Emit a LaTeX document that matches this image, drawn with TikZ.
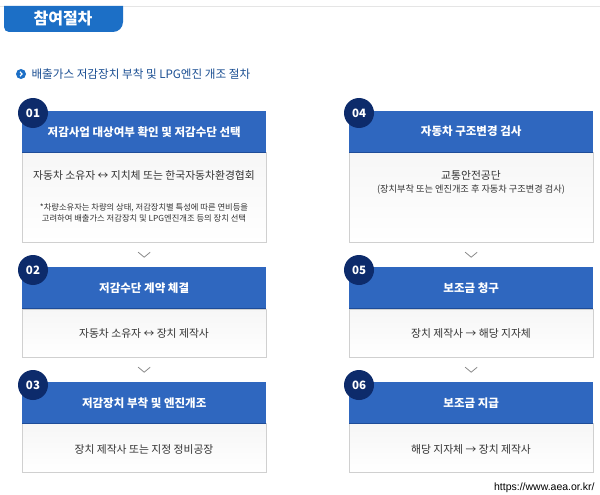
\documentclass[tikz,border=0pt]{standalone}
\usepackage{fontspec}
\setmainfont{Noto Sans CJK KR}
\newfontfamily\urlfont{Liberation Sans}
\usetikzlibrary{calc}
\definecolor{tabblue}{HTML}{1C6FC6}
\definecolor{hdrblue}{HTML}{2F67BF}
\definecolor{hdrdark}{HTML}{1E4C98}
\definecolor{navy}{HTML}{0D2B6B}
\definecolor{bodyline}{HTML}{D0D0D0}
\definecolor{subblue}{HTML}{1B4F93}
\definecolor{txt}{HTML}{333333}
\definecolor{chev}{HTML}{8A8A8A}
\begin{document}
\begin{tikzpicture}[x=1pt,y=-1pt,
  hdr/.style={fill=hdrblue, minimum width=244pt, minimum height=41pt, anchor=north west, inner sep=0pt, text=white, font=\fontsize{11.5}{13}\selectfont\bfseries},
  bodybox/.style={draw=bodyline, top color=gray!7, bottom color=white, minimum width=244pt, anchor=north west, inner sep=0pt},
  num/.style={circle, fill=navy, text=white, minimum size=30pt, inner sep=0pt, font=\fontsize{11.5}{12}\selectfont\bfseries},
  maintxt/.style={text=txt, font=\fontsize{10.8}{13}\selectfont},
  notetxt/.style={text=txt, font=\fontsize{8.3}{11}\selectfont, align=center},
  chevron/.style={draw=chev, line width=0.8pt},
  hline/.style={draw=hdrdark, line width=1.5pt}
]
\useasboundingbox (0,0) rectangle (600,495);
\fill[white] (0,0) rectangle (600,495);
\draw[gray!20] (0,6) -- (600,6);
% tab
\fill[tabblue] (4,6) -- (123,6) [rounded corners=10pt] -- (123,32) [rounded corners=5pt] -- (4,32) [sharp corners] -- cycle;
\node[text=white, font=\fontsize{16}{18}\selectfont\bfseries] (tab) at (63,19) {참여절차};
% subtitle
\node[circle, fill=tabblue, minimum size=10pt, inner sep=0pt] (ico) at (21,74) {};
\draw[white, line width=1.2pt] ($(ico)+(-1,-2.2)$) -- ++(2,2.2) -- ++(-2,2.2);
\node[anchor=west, text=subblue, font=\fontsize{11.6}{13}\selectfont] (sub) at (28,74) {배출가스 저감장치 부착 및 LPG엔진 개조 절차};

% ---- column 1 ----
\node[bodybox, minimum height=90pt] (b1) at (22,152) {};
\node[hdr] (h1) at (22,111) {저감사업 대상여부 확인 및 저감수단 선택};
\draw[hline] (h1.south west) -- (h1.south east);
\node[num] (n1) at (33,113) {01};
\node[maintxt] (t1) at (144,175) {자동차 소유자 ↔ 지치체 또는 한국자동차환경협회};
\node[notetxt] (t1b) at (144,212.5) {*차량소유자는 차량의 상태, 저감장치별 특성에 따른 연비등을\\고려하여 배출가스 저감장치 및 LPG엔진개조 등의 장치 선택};

\node[bodybox, minimum height=48pt] (b2) at (22,309) {};
\node[hdr] (h2) at (22,267) {저감수단 계약 체결};
\draw[hline] (h2.south west) -- (h2.south east);
\node[num] (n2) at (33,270) {02};
\node[maintxt] (t2) at (144,333) {자동차 소유자 ↔ 장치 제작사};

\node[bodybox, minimum height=49pt] (b3) at (22,423) {};
\node[hdr] (h3) at (22,382) {저감장치 부착 및 엔진개조};
\draw[hline] (h3.south west) -- (h3.south east);
\node[num] (n3) at (33,385) {03};
\node[maintxt] (t3) at (144,449) {장치 제작사 또는 지정 정비공장};

% ---- column 2 ----
\node[bodybox, minimum height=90pt] (b4) at (349,152) {};
\node[hdr] (h4) at (349,111) {자동차 구조변경 검사};
\draw[hline] (h4.south west) -- (h4.south east);
\node[num] (n4) at (359,113) {04};
\node[maintxt] (t4) at (471,175) {교통안전공단};
\node[notetxt, font=\fontsize{9.2}{11}\selectfont] (t4b) at (471,190) {(장치부착 또는 엔진개조 후 자동차 구조변경 검사)};

\node[bodybox, minimum height=48pt] (b5) at (349,309) {};
\node[hdr] (h5) at (349,267) {보조금 청구};
\draw[hline] (h5.south west) -- (h5.south east);
\node[num] (n5) at (359,270) {05};
\node[maintxt] (t5) at (471,333) {장치 제작사 → 해당 지자체};

\node[bodybox, minimum height=49pt] (b6) at (349,423) {};
\node[hdr] (h6) at (349,382) {보조금 지급};
\draw[hline] (h6.south west) -- (h6.south east);
\node[num] (n6) at (359,385) {06};
\node[maintxt] (t6) at (471,449) {해당 지자체 → 장치 제작사};

% chevrons
\foreach \a/\b in {b1/h2, b2/h3, b4/h5, b5/h6} {
  \coordinate (m) at ($(\a.south)!0.5!(\b.north)$);
  \draw[chevron] ($(m)+(-6,-2.5)$) -- ($(m)+(0,2.5)$) -- ($(m)+(6,-2.5)$);
}

\node[anchor=east, font=\urlfont\fontsize{10.5}{12}\selectfont] (url) at (598,488) {https://www.aea.or.kr/};
\end{tikzpicture}
\end{document}
